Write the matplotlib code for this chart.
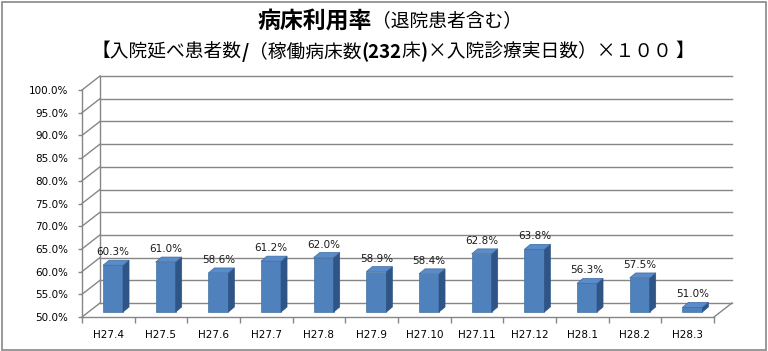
import matplotlib
matplotlib.use("Agg")
import matplotlib.pyplot as plt
from matplotlib.patches import Polygon, Rectangle

plt.rcParams['font.family'] = ['DejaVu Sans', 'Noto Sans CJK JP']

months = ["H27.4", "H27.5", "H27.6", "H27.7", "H27.8", "H27.9",
          "H27.10", "H27.11", "H27.12", "H28.1", "H28.2", "H28.3"]
rates = [60.3, 61.0, 58.6, 61.2, 62.0, 58.9, 58.4, 62.8, 63.8, 56.3, 57.5, 51.0]
y_ticks = [50, 55, 60, 65, 70, 75, 80, 85, 90, 95, 100]

W, H = 768, 351
fig = plt.figure(figsize=(W / 100, H / 100), dpi=100)

# plot box in pixels (front plane)
left, right, floor, top = 82, 714, 317, 90
ax = fig.add_axes([left / W, (H - floor) / H, (right - left) / W, (floor - top) / H])
n = len(months)
ax.set_xlim(0, n)
ax.set_ylim(y_ticks[0], y_ticks[-1])
ax.set_facecolor('none')

ppx = (right - left) / n
ppy = (floor - top) / (y_ticks[-1] - y_ticks[0])

def ox(px):
    return px / ppx

def oy(px):
    return px / ppy

grid_c = '#868686'
ymin = y_ticks[0]

# back wall + side wall
bdx, bdy = ox(18), oy(14)
for v in y_ticks:
    ax.plot([bdx, n + bdx], [v + bdy, v + bdy], color=grid_c, lw=1, clip_on=False, zorder=1)
    ax.plot([0, bdx], [v, v + bdy], color=grid_c, lw=1, clip_on=False, zorder=1)
ax.plot([bdx, bdx], [ymin + bdy, y_ticks[-1] + bdy], color=grid_c, lw=1, clip_on=False, zorder=1)
ax.plot([n, n + bdx], [ymin, ymin + bdy], color=grid_c, lw=1, clip_on=False, zorder=1)

# 3d bars
fx, fy = ox(4.7), oy(5)      # front face offset
dx, dy = ox(6), oy(5)        # bar depth
bw = ox(20)
front_c, side_c, top_c = '#4f81bd', '#2f5586', '#5a8ccb'
for i, v in enumerate(rates):
    x0 = i + 0.5 - bw / 2 + fx
    x1 = x0 + bw
    b = ymin + fy
    t = v + fy
    ax.add_patch(Rectangle((x0, b), bw, t - b, facecolor=front_c, edgecolor='#44729f',
                           lw=0.5, zorder=3, clip_on=False))
    ax.add_patch(Polygon([(x1, b), (x1 + dx, b + dy), (x1 + dx, t + dy), (x1, t)],
                         facecolor=side_c, edgecolor=side_c, lw=0.5, zorder=3, clip_on=False))
    ax.add_patch(Polygon([(x0, t), (x1, t), (x1 + dx, t + dy), (x0 + dx, t + dy)],
                         facecolor=top_c, edgecolor='#3d6aa0', lw=0.5, zorder=3, clip_on=False))
    ax.text(i + 0.5 + fx, t + oy(10), f"{v:.1f}%", ha='center', va='baseline',
            fontsize=7.5, color='#1a1a1a', zorder=4, clip_on=False)

# axes styling
for s in ['top', 'right']:
    ax.spines[s].set_visible(False)
for s in ['left', 'bottom']:
    ax.spines[s].set_color(grid_c)
    ax.spines[s].set_linewidth(1)
ax.set_yticks(y_ticks)
ax.set_yticklabels([f"{v:.1f}%" for v in y_ticks], fontsize=7.5)
ax.tick_params(axis='y', direction='out', length=3, width=1, color=grid_c, pad=7)
ax.set_xticks(range(n + 1))
ax.set_xticklabels([])
ax.tick_params(axis='x', which='major', direction='out', length=4, width=1, color=grid_c)
ax.set_xticks([i + 0.5 for i in range(n)], minor=True)
ax.set_xticklabels(months, minor=True, fontsize=7.5)
ax.tick_params(axis='x', which='minor', length=0, pad=9)

# title lines built from pieces (mixed weight)
jp = ['Noto Sans CJK JP', 'DejaVu Sans']
renderer = fig.canvas.get_renderer()

def rich_line(y_px, cx_px, parts):
    items = []
    total = 0
    for s, size, weight in parts:
        t = fig.text(0, 1 - y_px / H, s, fontsize=size, fontweight=weight,
                     family=jp, va='center', ha='left', color='black')
        w = t.get_window_extent(renderer).width
        items.append((t, w))
        total += w
    x = cx_px - total / 2
    for t, w in items:
        t.set_x(x / W)
        x += w

rich_line(21, 390, [("病床利用率", 16.5, 'bold'), ("（退院患者含む）", 13.5, 'normal')])
rich_line(52, 393, [("【入院延べ患者数", 13.5, 'normal'), ("/", 13.5, 'bold'),
                    ("（稼働病床数", 13.5, 'normal'), ("(232", 13.5, 'bold'),
                    ("床", 13.5, 'normal'), (")", 13.5, 'bold'),
                    ("×入院診療実日数）×１００ 】", 13.5, 'normal')])

# outer border
fig.patches.append(Rectangle((1.5 / W, 1 / H), 764 / W, 348 / H, transform=fig.transFigure,
                             fill=False, edgecolor='#888888', lw=1.2))

fig.savefig("out.png", dpi=100)
